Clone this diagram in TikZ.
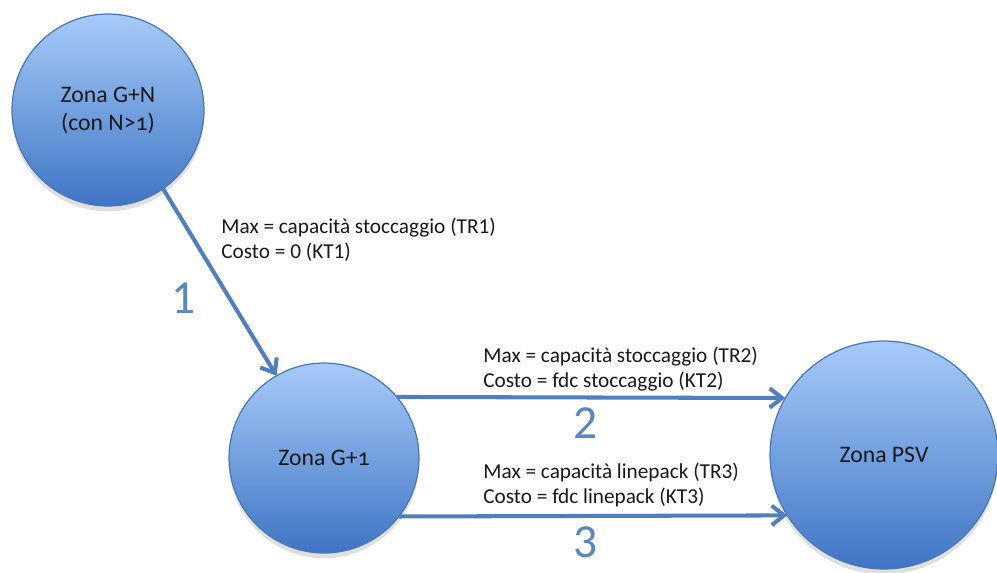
\documentclass[tikz,border=0pt]{standalone}
\usepackage{fontspec}
\setmainfont{Carlito}
\usetikzlibrary{arrows.meta,positioning,calc,shadows}
\definecolor{zonaline}{HTML}{4A78B4}
\definecolor{zonatop}{HTML}{A6CBF9}
\definecolor{zonabot}{HTML}{4075C4}
\definecolor{flowblue}{HTML}{4F7FBF}
\definecolor{numblue}{HTML}{5A86C2}

\begin{document}
\begin{tikzpicture}[x=0.02cm, y=-0.02cm,
  zona/.style={circle, draw=zonaline, line width=0.7pt, top color=zonatop,
    bottom color=zonabot, inner sep=0pt, outer sep=0pt, align=center,
    text=black!90, font=\fontsize{13.5}{16}\selectfont,
    drop shadow={shadow xshift=0pt, shadow yshift=-3pt, opacity=0.25}},
  flow/.style={-{Straight Barb[length=7pt, width=11pt]}, line width=2.3pt, flowblue},
  info/.style={anchor=base west, align=left, inner sep=0pt, text=black!90,
    font=\fontsize{12.1}{13.7}\selectfont},
  num/.style={anchor=base, inner sep=0pt, text=numblue, font=\fontsize{27}{30}\selectfont}]
\useasboundingbox (0,0) rectangle (997,572);
\clip (0,0) rectangle (997,572);

\node[zona, minimum size=3.84cm] (gn) at (108,110) {Zona G+N\\(con N>{\addfontfeatures{Numbers=OldStyle}1})};
\node[zona, minimum size=3.8cm] (g1) at (324,458) {Zona G+{\addfontfeatures{Numbers=OldStyle}1}};
\node[zona, minimum size=4.56cm] (psv) at (884,455) {Zona PSV};

\draw[flow] (gn.-55) -- (g1.120);
\draw[flow] (g1.40) -- (psv.150);
\draw[flow] (g1.-38) -- (psv.-148);

\node[info] (lab1) at (221,258) {Max = capacità stoccaggio (TR1)\\Costo = 0 (KT1)};
\node[info] (lab2) at (483,387) {Max = capacità stoccaggio (TR2)\\Costo = fdc stoccaggio (KT2)};
\node[info] (lab3) at (483,503) {Max = capacità linepack (TR3)\\Costo = fdc linepack (KT3)};

\node[num] (n1) at (184,313) {1};
\node[num] (n2) at (586,438) {2};
\node[num] (n3) at (586,557) {3};
\end{tikzpicture}
\end{document}
